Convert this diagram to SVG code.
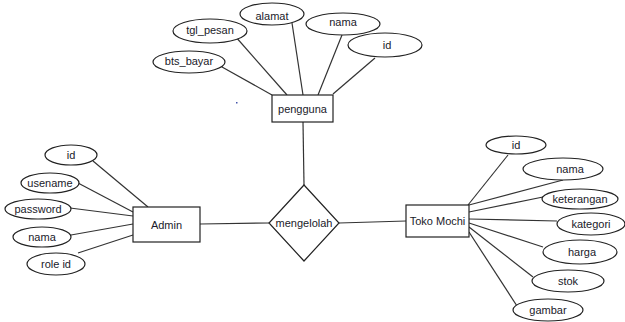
<svg xmlns="http://www.w3.org/2000/svg" width="625" height="322" viewBox="0 0 625 322">
<style>
.n{fill:#fff;stroke:#222;stroke-width:1.2}
.e{stroke:#333;stroke-width:1.2;fill:none}
text{font-family:"Liberation Sans",Arial,sans-serif;font-size:11px;fill:#1a1a2a;text-anchor:middle;dominant-baseline:central}
</style>
<rect width="625" height="322" fill="#fff"/>
<g id="connectors">
<line class="e" x1="222" y1="67" x2="272" y2="95"/>
<line class="e" x1="235" y1="36" x2="287" y2="95"/>
<line class="e" x1="292" y1="23" x2="303" y2="95"/>
<line class="e" x1="342" y1="35" x2="318" y2="95"/>
<line class="e" x1="375" y1="58" x2="333" y2="94"/>
<line class="e" x1="303" y1="122" x2="304" y2="185"/>
<line class="e" x1="200" y1="224" x2="269" y2="223"/>
<line class="e" x1="339" y1="223" x2="406" y2="221"/>
<line class="e" x1="93" y1="161" x2="148" y2="207"/>
<line class="e" x1="78" y1="183" x2="133" y2="212"/>
<line class="e" x1="70" y1="208" x2="133" y2="216"/>
<line class="e" x1="71" y1="235" x2="133" y2="224"/>
<line class="e" x1="78" y1="253" x2="133" y2="235"/>
<line class="e" x1="468" y1="205" x2="508" y2="155"/>
<line class="e" x1="469" y1="205" x2="563" y2="180"/>
<line class="e" x1="469" y1="212" x2="543" y2="197"/>
<line class="e" x1="469" y1="219" x2="557" y2="221"/>
<line class="e" x1="469" y1="223" x2="543" y2="247"/>
<line class="e" x1="469" y1="227" x2="533" y2="277"/>
<line class="e" x1="469" y1="232" x2="517" y2="306"/>
</g>
<rect x="236" y="102" width="1.5" height="1.5" fill="#4455aa"/>
<g id="pengguna"><rect class="n" x="272" y="95" width="61" height="27"/><text x="302.5" y="108.5">pengguna</text></g>
<g id="p_tgl_pesan"><ellipse class="n" cx="210" cy="31" rx="37" ry="12"/><text x="210" y="30">tgl_pesan</text></g>
<g id="p_alamat"><ellipse class="n" cx="272" cy="14" rx="32" ry="11"/><text x="272" y="16">alamat</text></g>
<g id="p_nama"><ellipse class="n" cx="343" cy="24" rx="37" ry="11"/><text x="343" y="22">nama</text></g>
<g id="p_id"><ellipse class="n" cx="385" cy="45" rx="37" ry="12"/><text x="387" y="45">id</text></g>
<g id="p_bts_bayar"><ellipse class="n" cx="189" cy="62" rx="36" ry="11"/><text x="189" y="61">bts_bayar</text></g>
<g id="mengelolah"><polygon class="n" points="304,185 339,223 304,261 269,223"/><text x="304" y="223">mengelolah</text></g>
<g id="admin"><rect class="n" x="133" y="207" width="67" height="35"/><text x="166.5" y="224.5">Admin</text></g>
<g id="a_id"><ellipse class="n" cx="71" cy="155" rx="26" ry="10"/><text x="71" y="155">id</text></g>
<g id="a_usename"><ellipse class="n" cx="50" cy="183" rx="29" ry="10"/><text x="50" y="183">usename</text></g>
<g id="a_password"><ellipse class="n" cx="38" cy="209" rx="33" ry="10"/><text x="38" y="209">password</text></g>
<g id="a_nama"><ellipse class="n" cx="42" cy="237" rx="29" ry="10"/><text x="42" y="237">nama</text></g>
<g id="a_role_id"><ellipse class="n" cx="56" cy="264" rx="29" ry="11"/><text x="56" y="264">role id</text></g>
<g id="toko_mochi"><rect class="n" x="406" y="205" width="63" height="32"/><text x="437.5" y="221">Toko Mochi</text></g>
<g id="t_id"><ellipse class="n" cx="516" cy="145" rx="30" ry="9"/><text x="516" y="145">id</text></g>
<g id="t_nama"><ellipse class="n" cx="563" cy="169" rx="40" ry="11"/><text x="570" y="169">nama</text></g>
<g id="t_keterangan"><ellipse class="n" cx="580" cy="199" rx="38" ry="10"/><text x="580" y="199">keterangan</text></g>
<g id="t_kategori"><ellipse class="n" cx="591" cy="224" rx="34" ry="11"/><text x="591" y="224">kategori</text></g>
<g id="t_harga"><ellipse class="n" cx="580" cy="252" rx="37" ry="12"/><text x="582" y="252">harga</text></g>
<g id="t_stok"><ellipse class="n" cx="568" cy="281" rx="36" ry="11"/><text x="568" y="281">stok</text></g>
<g id="t_gambar"><ellipse class="n" cx="548" cy="310" rx="35" ry="11"/><text x="548" y="310">gambar</text></g>
</svg>
